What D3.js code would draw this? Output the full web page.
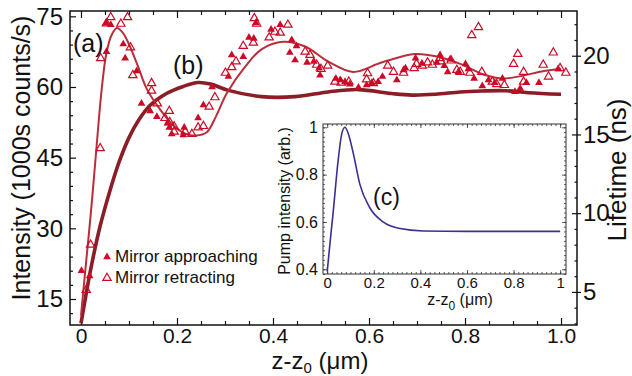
<!DOCTYPE html>
<html lang="en">
<head>
<meta charset="UTF-8">
<script src="https://d3js.org/d3.v7.min.js"></script>
<style>
  body { margin: 0; background: #fff; }
  text { font-family: "Liberation Sans", Arial, Helvetica, sans-serif; fill: #111; }
</style>
<title>Intensity and lifetime vs z-z0</title>
</head>
<body>
<svg id="chart" width="632" height="376"></svg>
<script>
// ---- data ----
// intensity (1000s counts/s) vs z-z0 (um), mirror approaching (filled)
var approaching = [
  [0.001,21.0],[0.018,19.9],[0.052,73.6],[0.062,73.2],[0.053,67.5],[0.088,69.1],[0.092,66.1],
  [0.116,63.4],[0.126,56.5],[0.144,54.9],[0.158,53.7],[0.180,52.3],[0.184,51.4],[0.189,50.0],
  [0.215,51.4],[0.213,49.8],[0.244,53.4],[0.255,56.2],[0.273,60.0],[0.307,62.2],[0.314,66.8],
  [0.338,66.4],[0.350,70.5],[0.360,70.3],[0.364,73.6],[0.396,72.2],[0.415,73.2],[0.435,67.3],
  [0.439,70.0],[0.446,65.7],[0.449,68.7],[0.471,65.2],[0.485,65.4],[0.496,64.0],[0.498,62.5],
  [0.531,61.8],[0.540,61.5],[0.550,61.1],[0.560,60.6],[0.578,59.9],[0.595,60.4],[0.606,60.9],
  [0.619,61.1],[0.628,62.2],[0.658,61.5],[0.672,63.6],[0.676,64.0],[0.697,66.1],[0.710,65.0],
  [0.741,65.2],[0.748,66.8],[0.757,64.5],[0.764,63.2],[0.769,65.9],[0.786,63.2],[0.801,64.9],
  [0.807,63.8],[0.819,61.8],[0.836,60.2],[0.849,61.5],[0.862,60.9],[0.878,61.8],[0.904,59.0],
  [0.915,59.7],[0.928,60.9],[0.954,60.9],[0.994,63.8]
];
// mirror retracting (open)
var retracting = [
  [0.011,16.9],[0.020,26.5],[0.040,47.0],[0.041,66.1],[0.053,73.5],[0.062,74.8],[0.083,73.4],
  [0.097,74.8],[0.103,68.4],[0.108,62.5],[0.147,60.8],[0.147,59.2],[0.159,56.5],[0.184,54.9],
  [0.175,53.4],[0.185,52.5],[0.194,51.6],[0.194,50.5],[0.217,50.5],[0.231,50.0],[0.244,51.4],
  [0.255,51.7],[0.267,55.8],[0.279,57.8],[0.301,63.0],[0.314,64.2],[0.323,65.4],[0.338,68.7],
  [0.359,69.4],[0.361,74.6],[0.366,73.4],[0.392,70.5],[0.404,71.7],[0.415,71.5],[0.431,73.2],
  [0.467,67.5],[0.477,66.8],[0.491,64.7],[0.500,63.8],[0.514,64.5],[0.529,61.1],[0.542,60.9],
  [0.558,61.1],[0.595,61.6],[0.597,62.9],[0.609,60.8],[0.639,64.5],[0.651,63.2],[0.672,63.0],
  [0.694,64.0],[0.699,64.9],[0.711,64.5],[0.722,65.2],[0.732,64.7],[0.748,66.1],[0.750,65.4],
  [0.771,65.6],[0.783,63.6],[0.790,63.2],[0.810,63.0],[0.814,71.0],[0.828,72.7],[0.835,63.2],
  [0.857,61.1],[0.866,60.6],[0.882,60.4],[0.901,64.9],[0.910,67.0],[0.922,61.1],[0.922,63.2],
  [0.963,64.7],[0.974,62.2],[0.984,67.3],[0.998,64.0],[1.010,63.0]
];
// (a) intensity fit
var fitA = [
  [0,11.5],[0.011,23.2],[0.021,33.8],[0.030,44.4],[0.043,59.4],[0.053,67.2],[0.064,71.1],
  [0.075,72.5],[0.088,71.4],[0.102,68.6],[0.119,64.3],[0.137,59.6],[0.165,55.2],[0.192,51.9],
  [0.217,50.1],[0.240,49.7],[0.262,50.4],[0.280,53.5],[0.304,58.7],[0.342,64.3],[0.376,68.0],
  [0.421,69.6],[0.467,68.6],[0.515,65.4],[0.567,63.2],[0.626,65.2],[0.696,67.0],[0.744,66.4],
  [0.790,64.9],[0.840,62.6],[0.880,61.8],[0.920,62.4],[0.960,63.3],[1.0,63.8]
];
// (b) lifetime fit (ns, right axis)
var fitB = [
  [0,3.0],[0.008,4.4],[0.02,6.4],[0.04,9.2],[0.06,11.4],[0.08,13.3],[0.10,14.8],[0.12,15.9],
  [0.144,16.85],[0.178,17.6],[0.213,18.05],[0.244,18.3],[0.270,18.2],[0.307,17.8],
  [0.376,17.4],[0.446,17.4],[0.515,17.7],[0.578,17.85],[0.647,17.6],[0.689,17.5],[0.738,17.55],
  [0.790,17.7],[0.835,17.76],[0.883,17.78],[0.932,17.65],[1.0,17.55]
];
// (c) pump intensity (arb.)
var pump = [
  [0,0.39],[0.013,0.52],[0.026,0.645],[0.047,0.86],[0.062,0.97],[0.076,1.0],[0.09,0.975],
  [0.112,0.89],[0.14,0.76],[0.183,0.66],[0.24,0.60],[0.312,0.572],[0.412,0.562],[0.6,0.56],[1.0,0.56]
];

var xTicks = [0, 0.2, 0.4, 0.6, 0.8, 1.0];
var xTickLabels = ["0", "0.2", "0.4", "0.6", "0.8", "1.0"];
var yTicks = [15, 30, 45, 60, 75];
var rTicks = [5, 10, 15, 20];
var insetXTicks = [0, 0.2, 0.4, 0.6, 0.8, 1];
var insetXLabels = ["0", "0.2", "0.4", "0.6", "0.8", "1"];
var insetYTicks = [0.4, 0.6, 0.8, 1];
var insetYLabels = ["0.4", "0.6", "0.8", "1"];

// ---- layout ----
var svg = d3.select("#chart");
var margin = { top: 11, right: 55, bottom: 51, left: 70 };
var width = 632 - margin.left - margin.right;
var height = 376 - margin.top - margin.bottom;

var dotColor = "#cc0a26";
var lineA = "#b92e3a";
var lineB = "#8a1d25";

var g = svg.append("g").attr("transform", "translate(" + margin.left + "," + margin.top + ")");

var x = d3.scaleLinear().domain([-0.0229, 1.0333]).range([0, width]);
var y = d3.scaleLinear().domain([9.48, 76.13]).range([height, 0]);
var yR = d3.scaleLinear().domain([2.9, 22.84]).range([height, 0]);

svg.append("defs").append("clipPath").attr("id", "clip")
  .append("rect").attr("width", width).attr("height", height);

// minor tick positions
var xMinor = d3.range(0, 1.0001, 0.05).filter(function (v) { return Math.abs(v * 5 - Math.round(v * 5)) > 1e-6; });
var yMinor = d3.range(12, 76, 3).filter(function (v) { return v % 15 !== 0; });
var rMinor = d3.range(3, 23, 1).filter(function (v) { return v % 5 !== 0; });

function tidy(sel) { sel.select(".domain").remove(); sel.selectAll("line").attr("stroke", "#111").attr("stroke-width", 1.2); }

// bottom
g.append("g").attr("transform", "translate(0," + height + ")")
  .call(d3.axisBottom(x).tickValues(xTicks).tickSize(-7).tickPadding(3)
    .tickFormat(function (d, i) { return xTickLabels[i]; }))
  .call(tidy)
  .selectAll("text").style("font-size", "21px").attr("fill", "#111");
g.append("g").attr("transform", "translate(0," + height + ")")
  .call(d3.axisBottom(x).tickValues(xMinor).tickSize(-4).tickFormat("")).call(tidy);
// top
g.append("g").call(d3.axisTop(x).tickValues(xTicks).tickSize(-7).tickFormat("")).call(tidy);
g.append("g").call(d3.axisTop(x).tickValues(xMinor).tickSize(-4).tickFormat("")).call(tidy);
// left
g.append("g")
  .call(d3.axisLeft(y).tickValues(yTicks).tickSize(-6).tickPadding(7))
  .call(tidy)
  .selectAll("text").style("font-size", "24px").attr("fill", "#111");
g.append("g").call(d3.axisLeft(y).tickValues(yMinor).tickSize(-3).tickFormat("")).call(tidy);
// right
g.append("g").attr("transform", "translate(" + width + ",0)")
  .call(d3.axisRight(yR).tickValues(rTicks).tickSize(4).tickPadding(2))
  .call(tidy)
  .selectAll("text").style("font-size", "24px").attr("fill", "#111");
g.append("g").attr("transform", "translate(" + width + ",0)")
  .call(d3.axisRight(yR).tickValues(rTicks).tickSize(-5).tickFormat("")).call(tidy);
g.append("g").attr("transform", "translate(" + width + ",0)")
  .call(d3.axisRight(yR).tickValues(rMinor).tickSize(-2.5).tickFormat("")).call(tidy);

// frame
g.append("rect").attr("width", width).attr("height", height)
  .attr("fill", "none").attr("stroke", "#111").attr("stroke-width", 1.5);

// fits
var plot = g.append("g").attr("clip-path", "url(#clip)");
plot.append("path").datum(fitB)
  .attr("fill", "none").attr("stroke", lineB).attr("stroke-width", 3.6)
  .attr("d", d3.line().curve(d3.curveCatmullRom.alpha(0.5))
    .x(function (d) { return x(d[0]); }).y(function (d) { return yR(d[1]); }));
plot.append("path").datum(fitA)
  .attr("fill", "none").attr("stroke", lineA).attr("stroke-width", 2)
  .attr("d", d3.line().curve(d3.curveCatmullRom.alpha(0.5))
    .x(function (d) { return x(d[0]); }).y(function (d) { return y(d[1]); }));

// points
var tri = d3.symbol().type(d3.symbolTriangle).size(26);
var triOpen = d3.symbol().type(d3.symbolTriangle).size(30);
plot.selectAll(".ret").data(retracting).enter().append("path")
  .attr("class", "ret")
  .attr("d", triOpen)
  .attr("transform", function (d) { return "translate(" + x(d[0]) + "," + y(d[1]) + ")"; })
  .attr("fill", "none").attr("stroke", dotColor).attr("stroke-width", 1.2);
plot.selectAll(".app").data(approaching).enter().append("path")
  .attr("class", "app")
  .attr("d", tri)
  .attr("transform", function (d) { return "translate(" + x(d[0]) + "," + y(d[1]) + ")"; })
  .attr("fill", dotColor);

// labels inside main plot
g.append("text").attr("x", 3).attr("y", 41).style("font-size", "25px").text("(a)");
g.append("text").attr("x", 103).attr("y", 63).style("font-size", "25px").text("(b)");

// legend
var legend = [["Mirror approaching", true], ["Mirror retracting", false]];
legend.forEach(function (l, i) {
  var ly = 245 + i * 21;
  g.append("path").attr("d", l[1] ? tri : triOpen)
    .attr("transform", "translate(37," + (ly + 1) + ")")
    .attr("fill", l[1] ? dotColor : "#fff").attr("stroke", l[1] ? "none" : dotColor).attr("stroke-width", 1.2);
  g.append("text").attr("x", 45).attr("y", ly + 6).style("font-size", "17px").text(l[0]);
});

// axis titles
svg.append("text")
  .attr("transform", "translate(30,158) rotate(-90)")
  .attr("text-anchor", "middle").style("font-size", "25px")
  .text("Intensity (1000s counts/s)");
svg.append("text")
  .attr("transform", "translate(626,170) rotate(-90)")
  .attr("text-anchor", "middle").style("font-size", "26px")
  .text("Lifetime (ns)");
var xt = svg.append("text").attr("x", 320).attr("y", 369)
  .attr("text-anchor", "middle").style("font-size", "24px");
xt.append("tspan").text("z-z");
xt.append("tspan").attr("dy", 4).style("font-size", "15px").text("0");
xt.append("tspan").attr("dy", -4).text(" (\u03bcm)");

// ---- inset (c) ----
var ib = { x: 323, y: 124, w: 243, h: 150 };
var ig = svg.append("g").attr("transform", "translate(" + ib.x + "," + ib.y + ")");
var xi = d3.scaleLinear().domain([-0.018, 1.025]).range([0, ib.w]);
var yi = d3.scaleLinear().domain([0.38, 1.014]).range([ib.h, 0]);

ig.append("rect").attr("width", ib.w).attr("height", ib.h).attr("fill", "#fff");

var xiMinor = d3.range(0, 1.0001, 0.02);
var yiMinor = d3.range(0.38, 1.0141, 0.02);
function tidyI(sel) { sel.select(".domain").remove(); sel.selectAll("line").attr("stroke", "#333").attr("stroke-width", 0.8); }

ig.append("g").attr("transform", "translate(0," + ib.h + ")")
  .call(d3.axisBottom(xi).tickValues(insetXTicks).tickSize(-4).tickPadding(3)
    .tickFormat(function (d, i) { return insetXLabels[i]; }))
  .call(tidyI).selectAll("text").style("font-size", "15px").attr("fill", "#111");
ig.append("g").attr("transform", "translate(0," + ib.h + ")")
  .call(d3.axisBottom(xi).tickValues(xiMinor).tickSize(-2).tickFormat("")).call(tidyI);
ig.append("g").call(d3.axisTop(xi).tickValues(insetXTicks).tickSize(-4).tickFormat("")).call(tidyI);
ig.append("g").call(d3.axisTop(xi).tickValues(xiMinor).tickSize(-2).tickFormat("")).call(tidyI);
ig.append("g")
  .call(d3.axisLeft(yi).tickValues(insetYTicks).tickSize(-4).tickPadding(5)
    .tickFormat(function (d, i) { return insetYLabels[i]; }))
  .call(tidyI).selectAll("text").style("font-size", "16px").attr("fill", "#111");
ig.append("g").call(d3.axisLeft(yi).tickValues(yiMinor).tickSize(-2).tickFormat("")).call(tidyI);
ig.append("g").attr("transform", "translate(" + ib.w + ",0)")
  .call(d3.axisRight(yi).tickValues(insetYTicks).tickSize(-4).tickFormat("")).call(tidyI);
ig.append("g").attr("transform", "translate(" + ib.w + ",0)")
  .call(d3.axisRight(yi).tickValues(yiMinor).tickSize(-2).tickFormat("")).call(tidyI);

ig.append("rect").attr("width", ib.w).attr("height", ib.h)
  .attr("fill", "none").attr("stroke", "#333").attr("stroke-width", 1);

ig.append("path").datum(pump)
  .attr("fill", "none").attr("stroke", "#3f2d8f").attr("stroke-width", 1.6)
  .attr("d", d3.line().curve(d3.curveMonotoneX)
    .x(function (d) { return xi(d[0]); }).y(function (d) { return yi(d[1]); }));

ig.append("text").attr("x", 50).attr("y", 81).style("font-size", "23px").text("(c)");

svg.append("text")
  .attr("transform", "translate(290,201) rotate(-90)")
  .attr("text-anchor", "middle").style("font-size", "16px")
  .text("Pump intensity (arb.)");
var xit = svg.append("text").attr("x", 460).attr("y", 305)
  .attr("text-anchor", "middle").style("font-size", "16px");
xit.append("tspan").text("z-z");
xit.append("tspan").attr("dy", 5).style("font-size", "12px").text("0");
xit.append("tspan").attr("dy", -5).text(" (\u03bcm)");
</script>
</body>
</html>
